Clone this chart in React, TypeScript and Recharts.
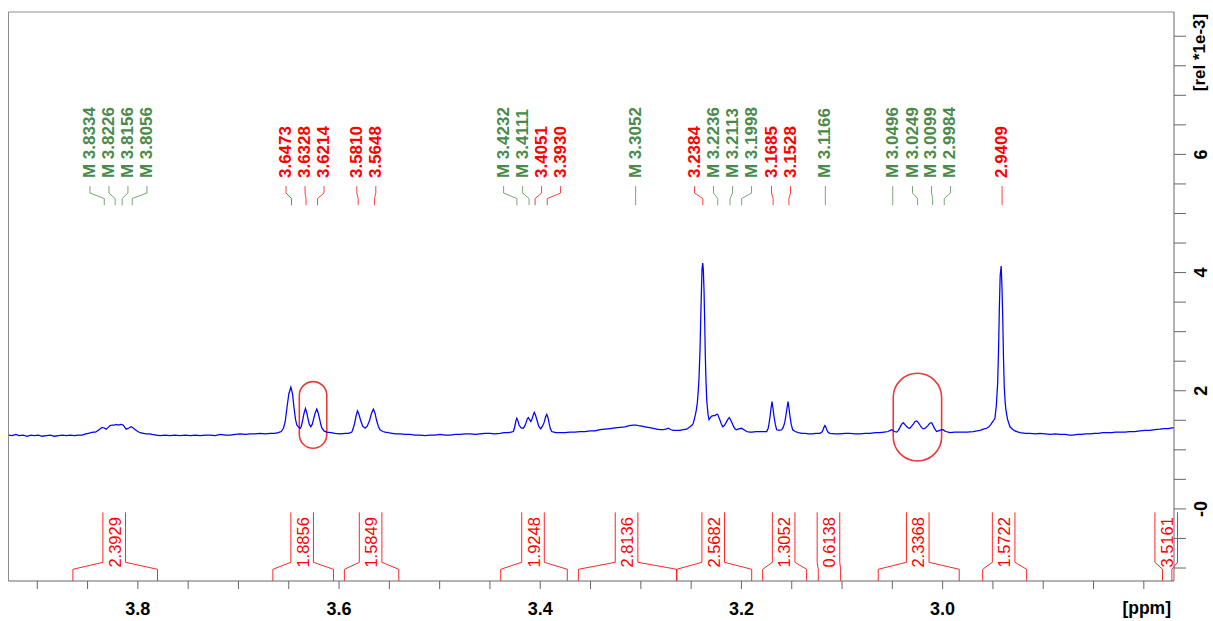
import React from 'react';
import { LineChart, Line, XAxis, YAxis, ReferenceArea, ReferenceLine } from 'recharts';

const FONT = '"Liberation Sans", Arial, Helvetica, sans-serif';

const X_DOMAIN: [number, number] = [2.77, 3.9286];
const Y_DOMAIN: [number, number] = [-1.22, 8.41];

const xTicks = [3.9, 3.85, 3.8, 3.75, 3.7, 3.65, 3.6, 3.55, 3.5, 3.45, 3.4, 3.35, 3.3, 3.25, 3.2, 3.15, 3.1, 3.05, 3.0, 2.95, 2.9, 2.85, 2.8];
const xTickLabels = [3.8, 3.6, 3.4, 3.2, 3.0];
const yTicks = [-1, -0.5, 0, 0.5, 1, 1.5, 2, 2.5, 3, 3.5, 4, 4.5, 5, 5.5, 6, 6.5, 7, 7.5, 8];
const yTickLabels = [0, 2, 4, 6];
const yTickText = ['-0', '2', '4', '6'];

// [ppm, intensity (rel *1e-3)]
const spectrumPoints: [number, number][] = [
  [3.9284, 1.25], [3.925, 1.24], [3.9215, 1.26], [3.918, 1.24], [3.914, 1.25], [3.91, 1.23], [3.9065, 1.25],
  [3.903, 1.24], [3.899, 1.25], [3.895, 1.23], [3.891, 1.24], [3.887, 1.25], [3.883, 1.23], [3.879, 1.24],
  [3.8752, 1.25], [3.8712, 1.24], [3.8672, 1.25], [3.8632, 1.24], [3.8593, 1.25], [3.8553, 1.25], [3.852, 1.27],
  [3.8493, 1.28], [3.8465, 1.29], [3.8444, 1.3], [3.842, 1.3], [3.8404, 1.32], [3.838, 1.35], [3.8357, 1.38],
  [3.8335, 1.37], [3.8315, 1.35], [3.8295, 1.38], [3.8275, 1.41], [3.8255, 1.42], [3.8235, 1.42], [3.8215, 1.43],
  [3.8195, 1.42], [3.817, 1.43], [3.8146, 1.42], [3.813, 1.38], [3.8116, 1.35], [3.809, 1.37], [3.8066, 1.39],
  [3.8046, 1.37], [3.8026, 1.34], [3.8, 1.31], [3.7977, 1.29], [3.7945, 1.28], [3.7917, 1.27], [3.7885, 1.27],
  [3.7858, 1.26], [3.782, 1.25], [3.7778, 1.24], [3.773, 1.25], [3.7679, 1.24], [3.763, 1.25], [3.758, 1.24],
  [3.753, 1.25], [3.748, 1.24], [3.743, 1.25], [3.7381, 1.24], [3.733, 1.25], [3.7281, 1.25], [3.723, 1.24],
  [3.7182, 1.26], [3.713, 1.25], [3.7083, 1.25], [3.703, 1.26], [3.6983, 1.27], [3.693, 1.26], [3.6884, 1.27],
  [3.683, 1.27], [3.6784, 1.28], [3.6735, 1.27], [3.6685, 1.28], [3.664, 1.28], [3.6605, 1.29], [3.6575, 1.31],
  [3.6553, 1.365], [3.6535, 1.48], [3.6519, 1.7], [3.6499, 1.95], [3.6479, 2.06], [3.6463, 1.95], [3.6447, 1.7],
  [3.6433, 1.52], [3.642, 1.42], [3.64, 1.38], [3.6387, 1.365], [3.6375, 1.4], [3.6362, 1.5], [3.6348, 1.62],
  [3.6334, 1.7], [3.632, 1.62], [3.6308, 1.52], [3.6295, 1.43], [3.6281, 1.39], [3.6267, 1.43], [3.6253, 1.52],
  [3.6238, 1.62], [3.6221, 1.69], [3.6207, 1.62], [3.6193, 1.52], [3.618, 1.42], [3.6171, 1.37], [3.615, 1.32],
  [3.6122, 1.3], [3.608, 1.29], [3.6039, 1.28], [3.599, 1.27], [3.594, 1.28], [3.5905, 1.28], [3.5873, 1.3],
  [3.586, 1.36], [3.5845, 1.45], [3.583, 1.58], [3.5817, 1.66], [3.5802, 1.6], [3.5786, 1.5], [3.5765, 1.4],
  [3.5741, 1.365], [3.572, 1.4], [3.5696, 1.5], [3.5677, 1.62], [3.5659, 1.69], [3.5643, 1.62], [3.5627, 1.5],
  [3.561, 1.4], [3.5592, 1.34], [3.5565, 1.31], [3.5542, 1.3], [3.551, 1.29], [3.5473, 1.28], [3.5435, 1.27],
  [3.5393, 1.27], [3.5345, 1.26], [3.5294, 1.26], [3.5245, 1.25], [3.5194, 1.25], [3.5145, 1.24], [3.5095, 1.25],
  [3.5045, 1.25], [3.4996, 1.26], [3.4945, 1.25], [3.4896, 1.25], [3.4845, 1.26], [3.4797, 1.26], [3.4745, 1.27],
  [3.4698, 1.27], [3.4645, 1.26], [3.4598, 1.27], [3.455, 1.28], [3.4499, 1.28], [3.445, 1.27], [3.44, 1.28],
  [3.436, 1.29], [3.432, 1.29], [3.429, 1.3], [3.4267, 1.31], [3.4258, 1.36], [3.425, 1.42], [3.4242, 1.49],
  [3.4233, 1.535], [3.4222, 1.49], [3.4211, 1.42], [3.419, 1.37], [3.4168, 1.365], [3.4155, 1.4], [3.4141, 1.46],
  [3.413, 1.52], [3.4118, 1.545], [3.4106, 1.51], [3.4094, 1.48], [3.408, 1.53], [3.4068, 1.6], [3.4059, 1.635],
  [3.4046, 1.58], [3.4032, 1.5], [3.4015, 1.4], [3.3995, 1.355], [3.3978, 1.4], [3.3962, 1.46], [3.3948, 1.55],
  [3.3935, 1.6], [3.3922, 1.54], [3.3912, 1.45], [3.39, 1.36], [3.3886, 1.31], [3.3865, 1.3], [3.3843, 1.29],
  [3.38, 1.29], [3.3754, 1.29], [3.3705, 1.3], [3.3654, 1.3], [3.3605, 1.31], [3.3555, 1.31], [3.3505, 1.32],
  [3.3455, 1.32], [3.3405, 1.34], [3.3356, 1.35], [3.3305, 1.36], [3.3257, 1.37], [3.3207, 1.38], [3.3157, 1.39],
  [3.3115, 1.41], [3.3075, 1.42], [3.305, 1.42], [3.3025, 1.41], [3.299, 1.4], [3.2958, 1.39], [3.29, 1.37],
  [3.2842, 1.35], [3.281, 1.34], [3.278, 1.34], [3.275, 1.35], [3.2727, 1.365], [3.27, 1.34], [3.2677, 1.33],
  [3.2645, 1.33], [3.2611, 1.33], [3.2578, 1.34], [3.2544, 1.35], [3.2511, 1.39], [3.249, 1.42], [3.2479, 1.45],
  [3.2468, 1.52], [3.2457, 1.6], [3.2448, 1.68], [3.2439, 1.79], [3.243, 1.98], [3.2422, 2.2], [3.2412, 2.69],
  [3.2402, 3.4], [3.2392, 4.05], [3.2385, 4.16], [3.2379, 4.05], [3.2372, 3.7], [3.2365, 3.15], [3.2359, 2.58],
  [3.2352, 2.15], [3.2345, 1.84], [3.2332, 1.6], [3.2322, 1.51], [3.231, 1.54], [3.2295, 1.57], [3.2278, 1.58],
  [3.2262, 1.58], [3.2248, 1.6], [3.2236, 1.6], [3.2225, 1.55], [3.2213, 1.5], [3.22, 1.44], [3.2186, 1.39],
  [3.217, 1.41], [3.2153, 1.46], [3.2137, 1.51], [3.2121, 1.545], [3.2108, 1.51], [3.2094, 1.46], [3.208, 1.4],
  [3.2064, 1.355], [3.205, 1.34], [3.2035, 1.35], [3.2015, 1.36], [3.1998, 1.365], [3.1975, 1.34], [3.1948, 1.31],
  [3.192, 1.3], [3.1895, 1.3], [3.1855, 1.31], [3.1816, 1.31], [3.1782, 1.31], [3.1749, 1.31], [3.1735, 1.36],
  [3.1726, 1.44], [3.1716, 1.56], [3.1706, 1.7], [3.1696, 1.815], [3.1686, 1.7], [3.1676, 1.56], [3.1663, 1.43],
  [3.165, 1.34], [3.1625, 1.33], [3.16, 1.34], [3.1585, 1.38], [3.157, 1.46], [3.156, 1.56], [3.1548, 1.7],
  [3.1537, 1.815], [3.1527, 1.7], [3.1517, 1.56], [3.1505, 1.43], [3.1491, 1.34], [3.1465, 1.31], [3.1435, 1.29],
  [3.14, 1.28], [3.1368, 1.28], [3.1335, 1.27], [3.1299, 1.27], [3.126, 1.28], [3.1219, 1.28], [3.12, 1.3],
  [3.119, 1.33], [3.118, 1.38], [3.117, 1.41], [3.116, 1.38], [3.115, 1.33], [3.1135, 1.29], [3.112, 1.28],
  [3.107, 1.27], [3.1021, 1.27], [3.097, 1.28], [3.0921, 1.28], [3.087, 1.27], [3.0822, 1.27], [3.077, 1.28],
  [3.0722, 1.28], [3.067, 1.29], [3.0623, 1.29], [3.058, 1.3], [3.0543, 1.31], [3.052, 1.33], [3.0507, 1.34],
  [3.048, 1.31], [3.0457, 1.3], [3.044, 1.33], [3.0424, 1.38], [3.0408, 1.43], [3.0392, 1.46], [3.0376, 1.43],
  [3.036, 1.4], [3.0342, 1.37], [3.0325, 1.365], [3.0308, 1.4], [3.029, 1.44], [3.0274, 1.48], [3.0258, 1.49],
  [3.0242, 1.46], [3.0226, 1.42], [3.021, 1.38], [3.0193, 1.355], [3.017, 1.37], [3.0146, 1.41], [3.0128, 1.45],
  [3.0109, 1.46], [3.0097, 1.42], [3.0086, 1.38], [3.0073, 1.34], [3.006, 1.31], [3.0043, 1.32], [3.0027, 1.33],
  [3.001, 1.34], [2.9994, 1.34], [2.998, 1.32], [2.9967, 1.31], [2.9945, 1.3], [2.9927, 1.29], [2.988, 1.3],
  [2.9828, 1.3], [2.976, 1.3], [2.9696, 1.31], [2.966, 1.32], [2.9629, 1.33], [2.9595, 1.35], [2.9563, 1.365],
  [2.954, 1.39], [2.952, 1.43], [2.95, 1.48], [2.948, 1.535], [2.9466, 1.75], [2.9453, 2.13], [2.9444, 2.7],
  [2.9436, 3.4], [2.9428, 3.95], [2.9418, 4.11], [2.941, 3.75], [2.9402, 3.2], [2.9395, 2.55], [2.9387, 2.05],
  [2.9378, 1.8], [2.9371, 1.675], [2.9355, 1.52], [2.9331, 1.39], [2.9305, 1.35], [2.9282, 1.32], [2.9232, 1.29],
  [2.918, 1.28], [2.9132, 1.28], [2.908, 1.27], [2.903, 1.28], [2.8983, 1.27], [2.893, 1.26], [2.888, 1.27],
  [2.8834, 1.26], [2.878, 1.26], [2.874, 1.25], [2.8705, 1.25], [2.866, 1.26], [2.862, 1.26], [2.858, 1.27],
  [2.8536, 1.27], [2.849, 1.28], [2.845, 1.28], [2.841, 1.29], [2.837, 1.29], [2.832, 1.29], [2.828, 1.3],
  [2.824, 1.3], [2.8188, 1.3], [2.814, 1.31], [2.809, 1.31], [2.8039, 1.32], [2.799, 1.33], [2.794, 1.33],
  [2.789, 1.34], [2.7841, 1.35], [2.78, 1.36], [2.776, 1.36], [2.772, 1.37], [2.7701, 1.37],
];

const peakPpm = [3.8334, 3.8226, 3.8156, 3.8056, 3.6473, 3.6328, 3.6214, 3.581, 3.5648, 3.4232, 3.4111, 3.4051, 3.393,
  3.3052, 3.2384, 3.2236, 3.2113, 3.1998, 3.1685, 3.1528, 3.1166, 3.0496, 3.0249, 3.0099, 2.9984, 2.9409];
const peakMarked = [1, 1, 1, 1, 0, 0, 0, 0, 0, 1, 1, 0, 0, 1, 0, 1, 1, 1, 0, 0, 1, 1, 1, 1, 1, 0];

const integralStart = [3.8646, 3.6658, 3.5947, 3.4393, 3.3621, 3.2643, 3.1789, 3.1236, 3.064, 2.9602, 2.7814];
const integralEnd = [3.7805, 3.6056, 3.5406, 3.3731, 3.2643, 3.1898, 3.1352, 3.1014, 2.9835, 2.9165, 2.7721];
const integralValue = ['2.3929', '1.8856', '1.5849', '1.9248', '2.8136', '2.5682', '1.3052', '0.6138', '2.3368', '1.5722', '3.5161'];

const circleX1 = [3.6395, 3.0491];
const circleX2 = [3.6122, 3.001];
const circleY1 = [1.027, 0.812];
const circleY2 = [2.154, 2.296];

const spectrum = spectrumPoints.map(([ppm, v]) => ({ ppm, v }));

const GREEN = '#4a8a4a';
const RED = '#ff0000';
const LABEL_SPACING = 0.01888; // ppm between neighbouring peak labels
const LABEL_Y_BOTTOM = 5.14;
const LABEL_Y_TOP = 5.6;
const INTEGRAL_TOP = -0.058;

function layoutLabels(peaks: number[], spacing: number): number[] {
  type G = { s: number; e: number };
  const groups: G[] = peaks.map((_, i) => ({ s: i, e: i }));
  const mean = (g: G) => {
    let m = 0;
    for (let k = g.s; k <= g.e; k++) m += peaks[k];
    return m / (g.e - g.s + 1);
  };
  const first = (g: G) => mean(g) + (spacing * (g.e - g.s)) / 2;
  const last = (g: G) => mean(g) - (spacing * (g.e - g.s)) / 2;
  let changed = true;
  while (changed) {
    changed = false;
    for (let i = 0; i < groups.length - 1; i++) {
      if (last(groups[i]) - first(groups[i + 1]) < spacing - 1e-9) {
        groups[i] = { s: groups[i].s, e: groups[i + 1].e };
        groups.splice(i + 1, 1);
        changed = true;
        break;
      }
    }
  }
  const out: number[] = [];
  groups.forEach((g) => {
    const f = first(g);
    for (let k = g.s; k <= g.e; k++) out.push(f - spacing * (k - g.s));
  });
  return out;
}

const labelPpm = layoutLabels(peakPpm, LABEL_SPACING);

const PeakLabel = (props: any) => {
  const { x, y, width, height, peakLeft, text, color } = props;
  const px = peakLeft ? x : x + width;
  const lx = peakLeft ? x + width : x;
  const top = y;
  const bottom = y + height;
  const bx = lx + 5;
  return (
    <g>
      <path
        d={`M${lx},${top + 8} L${lx},${top + 15} L${px},${top + 20.5} L${px},${bottom}`}
        stroke={color}
        strokeWidth={1}
        strokeOpacity={0.75}
        fill="none"
      />
      <text
        x={bx}
        y={top}
        transform={`rotate(-90 ${bx} ${top})`}
        fill={color}
        fontFamily={FONT}
        fontWeight="bold"
        fontSize={17}
        textAnchor="start"
      >
        {text}
      </text>
    </g>
  );
};

const IntegralMark = (props: any) => {
  const { x, y, width, height, text } = props;
  const top = y;
  const bottom = y + height;
  const cx = x + width / 2 - 1;
  const hw = 11.3;
  const right = x + width;
  const bx = cx + 6.7;
  const ty = top + 30;
  return (
    <g>
      <path
        d={`M${x},${bottom} L${x},${bottom - 11.7} L${cx - hw},${bottom - 18.7} L${cx - hw},${top}`}
        stroke={RED}
        strokeWidth={1}
        fill="none"
        strokeOpacity={0.85}
      />
      <path
        d={`M${right},${bottom} L${right},${bottom - 11.7} L${cx + hw},${bottom - 18.7} L${cx + hw},${top}`}
        stroke={RED}
        strokeWidth={1}
        fill="none"
        strokeOpacity={0.85}
      />
      <text
        x={bx}
        y={ty}
        transform={`rotate(-90 ${bx} ${ty})`}
        textAnchor="middle"
        fontFamily={FONT}
        fontSize={16.5}
        fill={RED}
      >
        {text}
      </text>
    </g>
  );
};

const Stadium = (props: any) => {
  const { x, y, width, height } = props;
  return (
    <rect x={x} y={y} width={width} height={height} rx={width / 2} ry={width / 2} fill="none" stroke="#e63c3c" strokeWidth={1.6} />
  );
};

const XTick = (props: any) => {
  const { x, y, payload } = props;
  const v = payload.value;
  const show = xTickLabels.some((t) => Math.abs(t - v) < 1e-6);
  if (!show) return <g />;
  return (
    <text x={x} y={y + 24} textAnchor="middle" fontFamily={FONT} fontWeight="bold" fontSize={18} fill="#000">
      {Number(v).toFixed(1)}
    </text>
  );
};

const YTick = (props: any) => {
  const { x, y, payload } = props;
  const idx = yTickLabels.findIndex((t) => Math.abs(t - payload.value) < 1e-6);
  if (idx < 0) return <g />;
  const bx = x + 19.5;
  return (
    <text x={bx} y={y} transform={`rotate(-90 ${bx} ${y})`} textAnchor="middle" fontFamily={FONT} fontWeight="bold" fontSize={18} fill="#000">
      {yTickText[idx]}
    </text>
  );
};

const YTitle = (props: any) => {
  const vb = props.viewBox || { x: 1174, y: 12 };
  const bx = vb.x + 30.5;
  const cy = vb.y + 40.5;
  return (
    <text x={bx} y={cy} transform={`rotate(-90 ${bx} ${cy})`} textAnchor="middle" fontFamily={FONT} fontWeight="bold" fontSize={17} fill="#000">
      [rel *1e-3]
    </text>
  );
};

const XTitle = (props: any) => {
  const vb = props.viewBox || { x: 8.5, y: 581, width: 1165.5 };
  return (
    <text x={vb.x + vb.width - 3} y={vb.y + 33} textAnchor="end" fontFamily={FONT} fontWeight="bold" fontSize={17.5} fill="#000">
      [ppm]
    </text>
  );
};

export default function App() {
  return (
    <div style={{ position: 'absolute', left: 0, top: 0, width: 1213, height: 621, background: '#fff' }}>
      <LineChart width={1213} height={621} data={spectrum} margin={{ top: 12, right: 0, bottom: 0, left: 8.5 }}>
        <XAxis
          dataKey="ppm"
          type="number"
          domain={X_DOMAIN}
          reversed
          allowDataOverflow
          ticks={xTicks}
          interval={0}
          height={40}
          tickSize={8}
          tickMargin={2}
          axisLine={{ stroke: '#666' }}
          tickLine={{ stroke: '#666' }}
          tick={<XTick />}
          label={<XTitle />}
        />
        <YAxis
          orientation="right"
          type="number"
          domain={Y_DOMAIN}
          allowDataOverflow
          ticks={yTicks}
          interval={0}
          width={39}
          tickSize={12}
          tickMargin={2}
          axisLine={{ stroke: '#666' }}
          tickLine={{ stroke: '#666' }}
          tick={<YTick />}
          label={<YTitle />}
        />
        <ReferenceLine x={X_DOMAIN[1]} stroke="#8c8c8c" strokeWidth={1} ifOverflow="visible" />
        <ReferenceLine y={Y_DOMAIN[1]} stroke="#8c8c8c" strokeWidth={1} ifOverflow="visible" />
        <Line type="linear" dataKey="v" stroke="#0000ff" strokeWidth={1.25} dot={false} isAnimationActive={false} />
        {circleX1.map((cx1, i) => (
          <ReferenceArea
            key={`c${i}`}
            x1={cx1}
            x2={circleX2[i]}
            y1={circleY1[i]}
            y2={circleY2[i]}
            ifOverflow="visible"
            shape={(p: any) => <Stadium {...p} />}
          />
        ))}
        {peakPpm.map((p, i) => (
          <ReferenceArea
            key={`p${i}`}
            x1={p}
            x2={labelPpm[i]}
            y1={LABEL_Y_BOTTOM}
            y2={LABEL_Y_TOP}
            ifOverflow="visible"
            shape={(sp: any) => (
              <PeakLabel
                {...sp}
                peakLeft={p > labelPpm[i]}
                text={peakMarked[i] ? `M ${p.toFixed(4)}` : p.toFixed(4)}
                color={peakMarked[i] ? GREEN : RED}
              />
            )}
          />
        ))}
        {integralStart.map((s, i) => (
          <ReferenceArea
            key={`i${i}`}
            x1={s}
            x2={integralEnd[i]}
            y1={Y_DOMAIN[0]}
            y2={INTEGRAL_TOP}
            ifOverflow="visible"
            shape={(sp: any) => <IntegralMark {...sp} text={integralValue[i]} />}
          />
        ))}
      </LineChart>
    </div>
  );
}
